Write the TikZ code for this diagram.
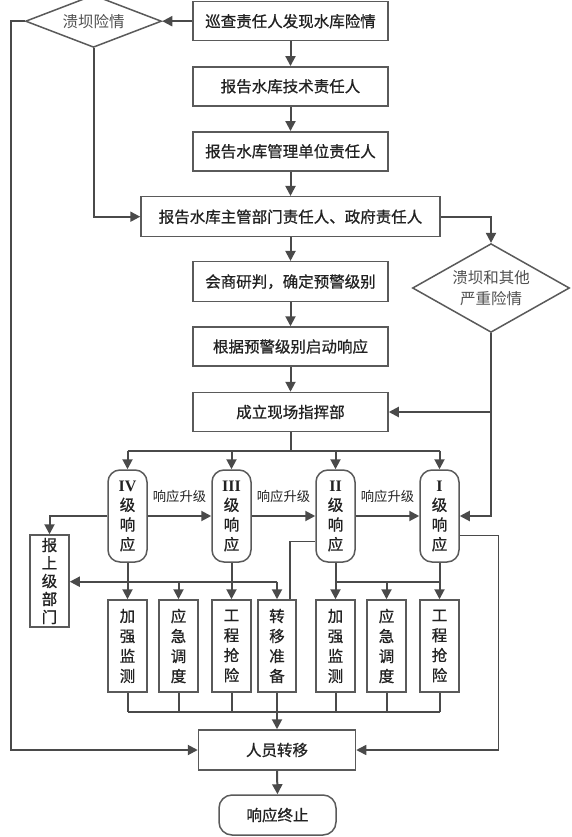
\documentclass[tikz,border=0pt]{standalone}
\usepackage{fontspec}
\setmainfont{Noto Sans CJK SC}
\newfontfamily\boxfont[FakeBold=0.8]{Noto Sans CJK SC}
\newfontfamily\romfont{Liberation Serif}
\usetikzlibrary{arrows.meta,shapes.geometric,calc}
\definecolor{cline}{RGB}{74,74,74}
\definecolor{cbord}{RGB}{90,90,90}
\definecolor{ctext}{RGB}{34,34,34}
\definecolor{cdtext}{RGB}{80,80,80}
\tikzset{
  x=1pt, y=-1pt,
  boxn/.style={draw=cbord, line width=1.5pt, rectangle, minimum width=195pt, minimum height=39pt, inner sep=0pt, text=ctext, font=\boxfont\fontsize{15.5}{18}\selectfont},
  diam/.style={draw=cbord, line width=1.5pt, diamond, inner sep=-6pt, text=cdtext, font=\fontsize{15.5}{21}\selectfont, align=center},
  lvl/.style={draw=cbord, line width=1.5pt, rectangle, rounded corners=12pt, minimum width=39pt, minimum height=92pt, inner sep=0pt, text=ctext, align=center, font=\boxfont\fontsize{15.5}{19.7}\selectfont},
  vbox/.style={draw=cbord, line width=1.5pt, rectangle, minimum width=39pt, minimum height=92pt, inner sep=0pt, text=ctext, align=center, font=\boxfont\fontsize{15.5}{20}\selectfont},
  arr/.style={draw=cline, line width=2pt, -{Triangle[length=10pt,width=10pt]}},
  ln/.style={draw=cline, line width=2pt},
  thinln/.style={draw=cline, line width=1.5pt},
  lbl/.style={text=ctext, font=\fontsize{13.3}{15}\selectfont, inner sep=0pt},
  rom/.style={}
}
\begin{document}
\begin{tikzpicture}
\useasboundingbox (0,0) rectangle (572,837);
\fill[white] (0,0) rectangle (572,837);
% main column
\node[boxn] (b1) at (290.5,21.2) {巡查责任人发现水库险情};
\node[diam, minimum width=136pt, minimum height=39pt] (d1) at (93.5,21.2) {溃坝险情};
\node[boxn] (b2) at (290.5,86.3) {报告水库技术责任人};
\node[boxn] (b3) at (290.5,151.3) {报告水库管理单位责任人};
\node[boxn, minimum width=299pt, minimum height=40pt] (b4) at (290.5,216.7) {报告水库主管部门责任人、政府责任人};
\node[boxn, minimum height=40pt] (b5) at (290.5,281.7) {会商研判，确定预警级别};
\node[diam, minimum width=157pt, minimum height=66pt] (d2) at (491,288) {溃坝和其他\\严重险情};
\node[boxn] (b6) at (290.5,346.5) {根据预警级别启动响应};
\node[boxn] (b7) at (290.5,412) {成立现场指挥部};
% levels
\node[lvl] (L4) at (127.5,516) {{\romfont\bfseries\fontsize{16}{19.7}\selectfont IV}\\级\\响\\应};
\node[lvl] (L3) at (231.5,516) {{\romfont\bfseries\fontsize{16}{19.7}\selectfont III}\\级\\响\\应};
\node[lvl] (L2) at (335.5,516) {{\romfont\bfseries\fontsize{16}{19.7}\selectfont II}\\级\\响\\应};
\node[lvl] (L1) at (439.5,516) {{\romfont\bfseries\fontsize{16}{19.7}\selectfont I}\\级\\响\\应};
\node[vbox, font=\boxfont\fontsize{15.5}{18}\selectfont] (sb) at (49.5,581) {报\\上\\级\\部\\门};
\node[vbox] (a1) at (127.5,646) {加\\强\\监\\测};
\node[vbox] (a2) at (178.5,646) {应\\急\\调\\度};
\node[vbox] (a3) at (231.5,646) {工\\程\\抢\\险};
\node[vbox, minimum width=38pt] (a4) at (277,646) {转\\移\\准\\备};
\node[vbox] (a5) at (335.5,646) {加\\强\\监\\测};
\node[vbox] (a6) at (386.5,646) {应\\急\\调\\度};
\node[vbox] (a7) at (439.5,646) {工\\程\\抢\\险};
\node[boxn, minimum width=157pt, minimum height=40pt] (rz) at (277,750) {人员转移};
\node[boxn, rounded corners=13pt, minimum width=117pt, minimum height=40pt] (end) at (277.5,815) {响应终止};
% coordinates
\coordinate (cL) at (11,0);
\coordinate (bus1) at (0,450.7);
\coordinate (bus2) at (0,581.7);
\coordinate (bus3) at (0,711.7);
% main chain
\draw[arr] (b1) -- (b2);
\draw[arr] (b2) -- (b3);
\draw[arr] (b3) -- (b4);
\draw[arr] (b4) -- (b5);
\draw[arr] (b5) -- (b6);
\draw[arr] (b6) -- (b7);
\draw[arr] (b1.west) -- (d1.east);
\draw[arr] (d1.south) |- (b4.west);
\draw[arr] (d1.west) -| (cL |- rz.west) -- (rz.west);
\draw[arr] (b4.east) -| (d2.north);
\draw[arr] (d2.south) |- (L1.east);
\draw[arr] (d2.south |- b7.east) -- (b7.east);
% bus to levels
\draw[ln] (b7.south) -- (b7.south |- bus1);
\draw[ln] (L4.north |- bus1) -- (L1.north |- bus1);
\draw[arr] (L4.north |- bus1) -- (L4.north);
\draw[arr] (L3.north |- bus1) -- (L3.north);
\draw[arr] (L2.north |- bus1) -- (L2.north);
\draw[arr] (L1.north |- bus1) -- (L1.north);
% level upgrades
\draw[arr] (L4.east) -- node[lbl, midway, yshift=20pt] {响应升级} (L3.west);
\draw[arr] (L3.east) -- node[lbl, midway, yshift=20pt] {响应升级} (L2.west);
\draw[arr] (L2.east) -- node[lbl, midway, yshift=20pt] {响应升级} (L1.west);
% IV / III actions
\draw[arr] (L4.west) -| (sb.north);
\draw[arr] (L4.south) -- (a1.north);
\draw[arr] (L3.south) -- (a3.north);
\draw[arr] (a4.north |- bus2) -- (sb.east |- bus2);
\draw[arr] (a2.north |- bus2) -- (a2.north);
\draw[arr] (a4.north |- bus2) -- (a4.north);
% II / I actions
\draw[arr] (L2.south) -- (a5.north);
\draw[arr] (L1.south) -- (a7.north);
\draw[ln] (L2.south |- bus2) -- (L1.south |- bus2);
\draw[arr] (a6.north |- bus2) -- (a6.north);
\draw[thinln] ([xshift=13pt]a4.north) |- ([yshift=-25.7pt]L2.west);
\draw[arr, line width=1.5pt] ([yshift=-19.7pt]L1.east) -- ++(38.5,0) |- (rz.east);
% bottom bus
\foreach \n in {a1,a2,a3,a4,a5,a6,a7} {\draw[ln] (\n.south) -- (\n.south |- bus3);}
\draw[ln] (a1.south |- bus3) -- (a7.south |- bus3);
\draw[arr] (rz.north |- bus3) -- (rz.north);
\draw[arr] (rz.south) -- (end.north);
\end{tikzpicture}
\end{document}
